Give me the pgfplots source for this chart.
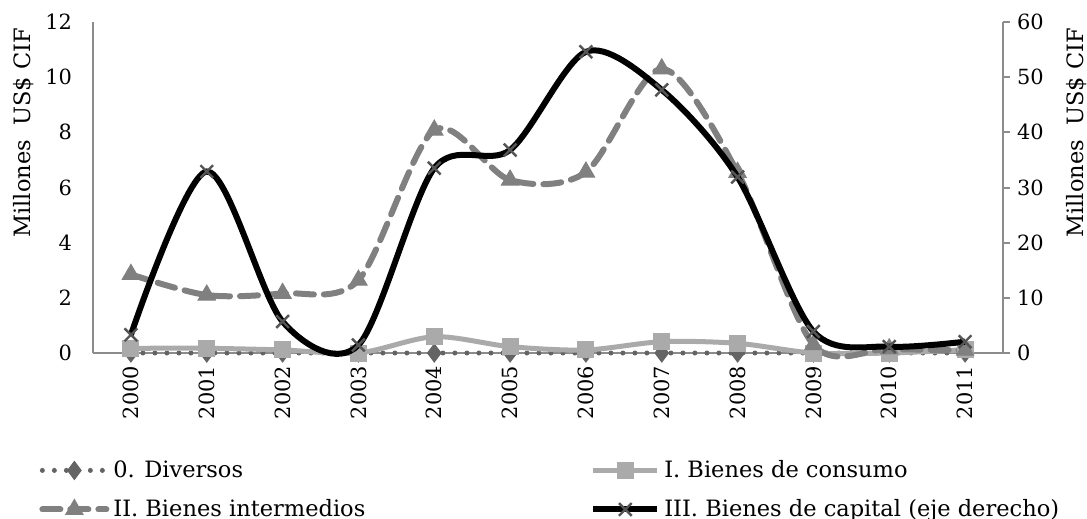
\documentclass[border=0pt]{standalone}
\usepackage{fontspec}
\setmainfont{DejaVu Serif}
\usepackage{pgfplots}
\pgfplotsset{compat=1.18}
\definecolor{divc}{RGB}{100,100,100}
\definecolor{conc}{RGB}{170,170,170}
\definecolor{intc}{RGB}{128,128,128}
\definecolor{capm}{RGB}{85,85,85}
\definecolor{axisc}{RGB}{140,140,140}
\begin{document}
\begin{tikzpicture}[font=\fontsize{11.3}{13.5}\selectfont]
\pgfplotsset{
  common/.style={scale only axis, width=455bp, height=165.5bp, xmin=-0.5, xmax=11.5,
    clip=false, /pgf/number format/assume math mode=true,
    axis line style={draw=axisc, line width=1bp},
    tick label style={font=\fontsize{10.5}{12}\selectfont},
    label style={font=\fontsize{11.2}{13}\selectfont}},
  legend image code/.code={\draw[mark repeat=2,mark phase=2] plot coordinates {(0bp,0bp) (16bp,0bp) (32bp,0bp)};}
}
\begin{axis}[common, name=main, ymin=0, ymax=12, ytick={0,2,...,12},
  axis y line*=left, axis x line*=bottom,
  xtick={0,...,11}, xticklabels={2000,2001,2002,2003,2004,2005,2006,2007,2008,2009,2010,2011},
  major tick length=0pt,
  x tick label style={rotate=90, anchor=east},
  xticklabel shift=3bp,
  y tick label style={xshift=-7bp},
  ylabel={Millones\ \ US\$ CIF},
  every axis y label/.style={at={(axis description cs:-0.0758,0.665)}, rotate=90, anchor=center},
  legend columns=2, legend cell align=left,
  legend style={at={(0,0)}, anchor=north west, xshift=-30bp, yshift=-49.5bp, draw=none, fill=none,
    font=\fontsize{11.3}{13.5}\selectfont, row sep=5.5bp,
    /tikz/column 2/.style={column sep=110.5bp}},
]
\addplot[color=divc, line width=2.5bp, dash pattern=on 0pt off 6bp, line cap=round, smooth, tension=0.5,
  mark=diamond*, mark size=4.5bp, mark options={solid, fill=divc, draw=divc, line width=0.5bp}]
  coordinates {(0,0) (1,0) (2,0) (3,0) (4,0) (5,0) (6,0) (7,0) (8,0) (9,0) (10,0) (11,0)};
\addlegendentry{0. Diversos}
\addplot[color=conc, line width=2.5bp, smooth, tension=0.5,
  mark=square*, mark size=4bp, mark options={solid, fill=conc, draw=conc, line width=0.5bp}]
  coordinates {(0,0.17) (1,0.17) (2,0.11) (3,0) (4,0.59) (5,0.23) (6,0.11) (7,0.41) (8,0.35) (9,0) (10,0) (11,0.12)};
\addlegendentry{I. Bienes de consumo}
\addplot[color=intc, line width=3bp, dash pattern=on 9bp off 5bp, line cap=round, smooth, tension=0.5,
  mark=triangle*, mark size=5bp, mark options={solid, fill=intc, draw=intc, line width=0.5bp}]
  coordinates {(0,2.85) (1,2.1) (2,2.16) (3,2.64) (4,8.08) (5,6.27) (6,6.56) (7,10.3) (8,6.55) (9,0.3) (10,0.15) (11,0.1)};
\addlegendentry{II. Bienes intermedios}
\addlegendimage{black, line width=3bp, mark=x, mark size=4.5bp, mark options={capm, line width=1.2bp, solid}}
\addlegendentry{III. Bienes de capital (eje derecho)}
\end{axis}
\begin{axis}[common, ymin=0, ymax=60, ytick={0,10,...,60},
  axis y line*=right, axis x line=none, xtick=\empty,
  tick align=outside, major tick length=3.5bp, tick style={draw=axisc, line width=1bp},
  ylabel={Millones\ \ US\$ CIF},
  every axis y label/.style={at={(axis description cs:1.0805,0.665)}, rotate=90, anchor=center},
]
\addplot[black, line width=3bp, smooth, tension=0.5,
  mark=x, mark size=4.5bp, mark options={capm, line width=1.2bp, solid}]
  coordinates {(0,3.3) (1,32.9) (2,5.7) (3,1.45) (4,33.5) (5,36.8) (6,54.6) (7,47.7) (8,31.9) (9,3.9) (10,1.15) (11,2.05)};
\end{axis}
\pgfresetboundingbox
\path[use as bounding box] ([xshift=-46.5bp,yshift=-83bp]main.south west) rectangle ([xshift=42bp,yshift=11bp]main.north east);
\end{tikzpicture}
\end{document}
